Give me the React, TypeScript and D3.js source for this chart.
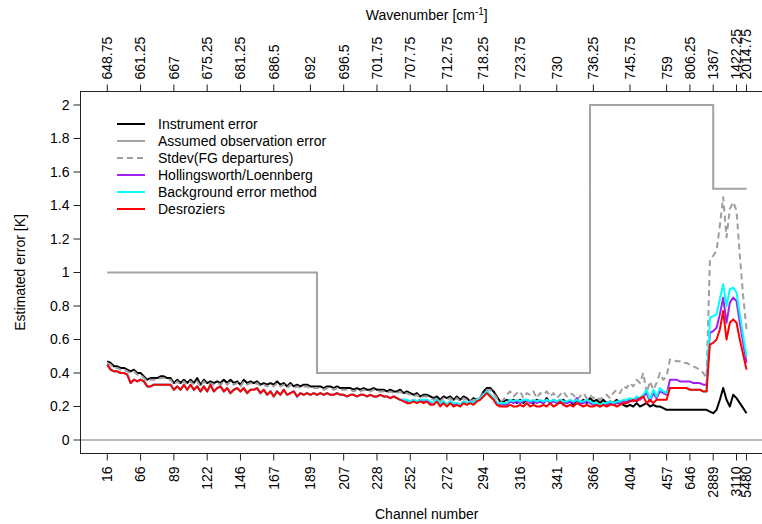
import React, { useEffect, useRef } from 'react';
import * as d3 from 'd3';

// position (channel index) of each labelled tick, plus the labels on both axes
const tickIndex = [0, 10, 20, 30, 40, 50, 61, 71, 81, 91, 102, 113, 124, 135, 146, 157, 168, 175, 182, 189, 192];
const channelLabels = ['16', '66', '89', '122', '146', '167', '189', '207', '228', '252', '272', '294', '316', '341', '366', '404', '457', '646', '2889', '3110', '5480'];
const wavenumberLabels = ['648.75', '661.25', '667', '675.25', '681.25', '686.5', '692', '696.5', '701.75', '707.75', '712.75', '718.25', '723.75', '730', '736.25', '745.75', '759', '806.25', '1367', '1422.25', '2014.75'];
const yTicks = [0, 0.2, 0.4, 0.6, 0.8, 1, 1.2, 1.4, 1.6, 1.8, 2];

const instrumentError = [
  0.47, 0.46, 0.44, 0.44, 0.43, 0.43, 0.42, 0.41, 0.42, 0.40,
  0.40, 0.38, 0.36, 0.37, 0.37, 0.37, 0.38, 0.38, 0.37, 0.37,
  0.34, 0.36, 0.34, 0.36, 0.34, 0.36, 0.34, 0.37, 0.33, 0.36,
  0.34, 0.35, 0.34, 0.35, 0.34, 0.36, 0.34, 0.36, 0.34, 0.35,
  0.33, 0.36, 0.34, 0.35, 0.34, 0.35, 0.33, 0.34, 0.33, 0.34,
  0.33, 0.35, 0.33, 0.34, 0.32, 0.34, 0.32, 0.33, 0.32, 0.33,
  0.33, 0.32, 0.32, 0.32, 0.32, 0.31, 0.32, 0.32, 0.31, 0.32,
  0.31, 0.31, 0.31, 0.31, 0.30, 0.31, 0.30, 0.31, 0.30, 0.30,
  0.31, 0.30, 0.30, 0.30, 0.29, 0.30, 0.29, 0.29, 0.30, 0.28,
  0.29, 0.28, 0.27, 0.28, 0.26, 0.27, 0.27, 0.26, 0.25, 0.26,
  0.24, 0.26, 0.25, 0.26, 0.24, 0.26, 0.24, 0.26, 0.25, 0.23,
  0.25, 0.24, 0.25, 0.29, 0.31, 0.31, 0.29, 0.26, 0.23, 0.23,
  0.24, 0.23, 0.24, 0.22, 0.24, 0.22, 0.24, 0.23, 0.22, 0.24,
  0.23, 0.22, 0.25, 0.22, 0.24, 0.23, 0.22, 0.24, 0.22, 0.23,
  0.21, 0.24, 0.22, 0.24, 0.22, 0.25, 0.23, 0.24, 0.22, 0.24,
  0.22, 0.23, 0.22, 0.24, 0.22, 0.21, 0.20, 0.21, 0.20, 0.22,
  0.20, 0.21, 0.22, 0.20, 0.21, 0.20, 0.20, 0.19, 0.18, 0.18,
  0.18, 0.18, 0.18, 0.18, 0.18, 0.18, 0.18, 0.18, 0.18, 0.18,
  0.18, 0.17, 0.16, 0.18, 0.24, 0.31, 0.24, 0.20, 0.27, 0.25,
  0.22, 0.19, 0.16,
];

// assumed observation error is piecewise constant: start index of each block and its value
const assumedStart = [0, 63, 145, 182];
const assumedValue = [1.0, 0.4, 2.0, 1.5];
const lastIndex = 192;

const stdevFG = [
  0.46, 0.45, 0.43, 0.43, 0.42, 0.42, 0.41, 0.40, 0.41, 0.39,
  0.39, 0.37, 0.35, 0.36, 0.36, 0.36, 0.37, 0.37, 0.36, 0.36,
  0.33, 0.35, 0.33, 0.35, 0.33, 0.35, 0.33, 0.35, 0.32, 0.35,
  0.33, 0.34, 0.33, 0.34, 0.33, 0.35, 0.33, 0.35, 0.33, 0.34,
  0.32, 0.35, 0.33, 0.34, 0.33, 0.34, 0.32, 0.33, 0.32, 0.33,
  0.32, 0.34, 0.32, 0.33, 0.31, 0.33, 0.31, 0.32, 0.31, 0.32,
  0.32, 0.31, 0.31, 0.31, 0.31, 0.30, 0.31, 0.31, 0.30, 0.31,
  0.30, 0.30, 0.30, 0.30, 0.29, 0.30, 0.29, 0.30, 0.29, 0.29,
  0.30, 0.29, 0.29, 0.29, 0.28, 0.29, 0.28, 0.28, 0.29, 0.27,
  0.28, 0.27, 0.26, 0.27, 0.25, 0.26, 0.26, 0.25, 0.24, 0.25,
  0.23, 0.25, 0.24, 0.25, 0.23, 0.25, 0.23, 0.25, 0.24, 0.23,
  0.24, 0.24, 0.25, 0.28, 0.30, 0.30, 0.28, 0.25, 0.23, 0.24,
  0.27, 0.29, 0.26, 0.28, 0.29, 0.25, 0.28, 0.27, 0.29, 0.25,
  0.28, 0.27, 0.29, 0.26, 0.28, 0.25, 0.27, 0.29, 0.26, 0.28,
  0.27, 0.24, 0.26, 0.28, 0.25, 0.27, 0.25, 0.26, 0.24, 0.26,
  0.27, 0.25, 0.28, 0.30, 0.28, 0.32, 0.31, 0.34, 0.32, 0.36,
  0.34, 0.40, 0.28, 0.35, 0.30, 0.34, 0.40, 0.36, 0.38, 0.48,
  0.48, 0.47, 0.47, 0.46, 0.46, 0.45, 0.44, 0.43, 0.42, 0.40,
  0.37, 1.07, 1.10, 1.13, 1.28, 1.45, 1.21, 1.38, 1.42, 1.37,
  1.10, 0.86, 0.66,
];

const hollingsworth = [
  0.45, 0.42, 0.41, 0.41, 0.40, 0.40, 0.39, 0.34, 0.36, 0.35,
  0.36, 0.35, 0.32, 0.32, 0.33, 0.33, 0.33, 0.33, 0.33, 0.33,
  0.30, 0.32, 0.30, 0.33, 0.30, 0.33, 0.30, 0.32, 0.29, 0.32,
  0.29, 0.33, 0.29, 0.31, 0.32, 0.29, 0.31, 0.28, 0.30, 0.31,
  0.29, 0.31, 0.28, 0.30, 0.30, 0.31, 0.28, 0.30, 0.27, 0.29,
  0.26, 0.29, 0.27, 0.30, 0.27, 0.28, 0.29, 0.26, 0.28, 0.27,
  0.28, 0.27, 0.28, 0.27, 0.28, 0.27, 0.28, 0.27, 0.27, 0.28,
  0.27, 0.27, 0.26, 0.27, 0.27, 0.26, 0.27, 0.27, 0.26, 0.27,
  0.26, 0.26, 0.27, 0.26, 0.26, 0.25, 0.26, 0.25, 0.24, 0.24,
  0.23, 0.23, 0.24, 0.23, 0.24, 0.23, 0.24, 0.22, 0.22, 0.24,
  0.21, 0.23, 0.21, 0.23, 0.21, 0.22, 0.21, 0.23, 0.22, 0.23,
  0.22, 0.24, 0.25, 0.27, 0.29, 0.27, 0.25, 0.22, 0.21, 0.21,
  0.21, 0.23, 0.22, 0.23, 0.22, 0.23, 0.24, 0.22, 0.23, 0.22,
  0.23, 0.22, 0.24, 0.22, 0.23, 0.22, 0.24, 0.22, 0.22, 0.23,
  0.22, 0.25, 0.22, 0.22, 0.23, 0.22, 0.21, 0.21, 0.20, 0.21,
  0.21, 0.22, 0.21, 0.22, 0.22, 0.23, 0.23, 0.24, 0.23, 0.25,
  0.24, 0.26, 0.28, 0.23, 0.28, 0.25, 0.29, 0.28, 0.27, 0.36,
  0.36, 0.36, 0.35, 0.35, 0.35, 0.35, 0.34, 0.34, 0.34, 0.33,
  0.33, 0.64, 0.65, 0.67, 0.75, 0.85, 0.70, 0.82, 0.85, 0.83,
  0.70, 0.58, 0.46,
];

const backgroundMethod = [
  0.45, 0.42, 0.41, 0.41, 0.40, 0.40, 0.39, 0.34, 0.36, 0.35,
  0.36, 0.35, 0.32, 0.32, 0.33, 0.33, 0.33, 0.33, 0.33, 0.33,
  0.30, 0.32, 0.30, 0.33, 0.30, 0.33, 0.30, 0.32, 0.29, 0.32,
  0.29, 0.33, 0.29, 0.31, 0.32, 0.29, 0.31, 0.28, 0.30, 0.31,
  0.29, 0.31, 0.28, 0.30, 0.30, 0.31, 0.28, 0.30, 0.27, 0.29,
  0.26, 0.29, 0.27, 0.30, 0.27, 0.28, 0.29, 0.26, 0.28, 0.27,
  0.28, 0.27, 0.28, 0.27, 0.28, 0.27, 0.28, 0.27, 0.27, 0.28,
  0.27, 0.27, 0.26, 0.27, 0.27, 0.26, 0.27, 0.27, 0.26, 0.27,
  0.26, 0.26, 0.27, 0.26, 0.26, 0.25, 0.26, 0.25, 0.24, 0.24,
  0.24, 0.23, 0.24, 0.23, 0.24, 0.24, 0.24, 0.23, 0.22, 0.24,
  0.22, 0.23, 0.21, 0.23, 0.22, 0.22, 0.21, 0.23, 0.22, 0.23,
  0.22, 0.24, 0.25, 0.27, 0.29, 0.27, 0.25, 0.22, 0.22, 0.22,
  0.22, 0.24, 0.23, 0.24, 0.23, 0.24, 0.24, 0.23, 0.24, 0.23,
  0.24, 0.23, 0.24, 0.23, 0.24, 0.23, 0.24, 0.23, 0.23, 0.24,
  0.23, 0.24, 0.23, 0.23, 0.24, 0.23, 0.22, 0.22, 0.21, 0.22,
  0.22, 0.23, 0.22, 0.23, 0.23, 0.24, 0.24, 0.25, 0.24, 0.26,
  0.25, 0.27, 0.30, 0.24, 0.30, 0.26, 0.31, 0.29, 0.28, 0.31,
  0.31, 0.31, 0.31, 0.31, 0.31, 0.30, 0.30, 0.30, 0.30, 0.29,
  0.29, 0.73, 0.74, 0.75, 0.84, 0.93, 0.80, 0.90, 0.91, 0.88,
  0.75, 0.62, 0.50,
];

const desroziers = [
  0.45, 0.42, 0.41, 0.41, 0.40, 0.40, 0.39, 0.34, 0.36, 0.35,
  0.36, 0.35, 0.32, 0.32, 0.33, 0.33, 0.33, 0.33, 0.33, 0.33,
  0.30, 0.32, 0.30, 0.33, 0.30, 0.33, 0.30, 0.32, 0.29, 0.32,
  0.29, 0.33, 0.29, 0.31, 0.32, 0.29, 0.31, 0.28, 0.30, 0.31,
  0.29, 0.31, 0.28, 0.30, 0.30, 0.31, 0.28, 0.30, 0.27, 0.29,
  0.26, 0.29, 0.27, 0.30, 0.27, 0.28, 0.29, 0.26, 0.28, 0.27,
  0.28, 0.27, 0.28, 0.27, 0.28, 0.27, 0.28, 0.27, 0.27, 0.28,
  0.27, 0.27, 0.26, 0.27, 0.27, 0.26, 0.27, 0.27, 0.26, 0.27,
  0.26, 0.26, 0.27, 0.26, 0.26, 0.25, 0.26, 0.25, 0.24, 0.23,
  0.22, 0.22, 0.23, 0.22, 0.23, 0.22, 0.23, 0.21, 0.21, 0.23,
  0.20, 0.22, 0.20, 0.22, 0.20, 0.21, 0.20, 0.22, 0.21, 0.22,
  0.21, 0.23, 0.24, 0.26, 0.28, 0.26, 0.24, 0.21, 0.20, 0.20,
  0.20, 0.21, 0.20, 0.20, 0.21, 0.20, 0.22, 0.20, 0.21, 0.20,
  0.20, 0.21, 0.20, 0.22, 0.20, 0.21, 0.23, 0.21, 0.20, 0.21,
  0.20, 0.22, 0.21, 0.20, 0.21, 0.20, 0.20, 0.21, 0.20, 0.21,
  0.20, 0.21, 0.21, 0.20, 0.21, 0.22, 0.22, 0.23, 0.24, 0.23,
  0.25, 0.26, 0.22, 0.24, 0.22, 0.24, 0.24, 0.24, 0.24, 0.31,
  0.31, 0.31, 0.31, 0.31, 0.31, 0.30, 0.30, 0.30, 0.30, 0.29,
  0.29, 0.57, 0.58, 0.60, 0.66, 0.77, 0.60, 0.70, 0.72, 0.70,
  0.60, 0.51, 0.42,
];

const FONT = '"Liberation Sans", Arial, Helvetica, sans-serif';

const series = [
  { name: 'Instrument error', values: instrumentError, color: '#000000', dash: null },
  { name: 'Assumed observation error', values: null, color: '#a3a3a3', dash: null },
  { name: 'Stdev(FG departures)', values: stdevFG, color: '#9e9e9e', dash: '6,4' },
  { name: 'Hollingsworth/Loennberg', values: hollingsworth, color: '#a020f0', dash: null },
  { name: 'Background error method', values: backgroundMethod, color: '#00ffff', dash: null },
  { name: 'Desroziers', values: desroziers, color: '#ff0000', dash: null },
];

const ErrorChart = () => {
  const chartRef = useRef<SVGSVGElement>(null);

  useEffect(() => {
    const svg = d3.select(chartRef.current);
    svg.selectAll('*').remove();

    const box = { left: 80.5, right: 773, top: 91.5, bottom: 453.5 };

    const x = d3.scaleLinear().domain([0, lastIndex]).range([107.3, 746.5]);
    const y = d3.scaleLinear().domain([0, 2]).range([440, 105]);

    // zero line
    svg
      .append('line')
      .attr('x1', box.left)
      .attr('x2', box.right)
      .attr('y1', y(0))
      .attr('y2', y(0))
      .attr('stroke', '#a0a0a0')
      .attr('stroke-width', 1.3);

    // assumed obs error as steps
    const steps: [number, number][] = assumedStart.map((s, k) => [s, assumedValue[k]]);
    steps.push([lastIndex, assumedValue[assumedValue.length - 1]]);
    svg
      .append('path')
      .attr(
        'd',
        d3
          .line<[number, number]>()
          .x(d => x(d[0]))
          .y(d => y(d[1]))
          .curve(d3.curveStepAfter)(steps),
      )
      .attr('fill', 'none')
      .attr('stroke', series[1].color)
      .attr('stroke-width', 2);

    const lineGen = d3
      .line<number>()
      .x((d, i) => x(i))
      .y(d => y(d));

    series
      .filter(s => s.values)
      .forEach(s => {
        svg
          .append('path')
          .attr('d', lineGen(s.values as number[]))
          .attr('fill', 'none')
          .attr('stroke', s.color)
          .attr('stroke-width', 2)
          .attr('stroke-linejoin', 'round')
          .attr('stroke-dasharray', s.dash);
      });

    // frame
    svg
      .append('rect')
      .attr('x', box.left)
      .attr('y', box.top)
      .attr('width', box.right - box.left)
      .attr('height', box.bottom - box.top)
      .attr('fill', 'none')
      .attr('stroke', '#222')
      .attr('stroke-width', 1);

    // left axis
    const yAxis = svg.append('g').attr('font-family', FONT).attr('font-size', 14);
    yTicks.forEach(t => {
      yAxis
        .append('line')
        .attr('x1', box.left - 7)
        .attr('x2', box.left)
        .attr('y1', y(t))
        .attr('y2', y(t))
        .attr('stroke', '#222');
      yAxis
        .append('text')
        .attr('x', box.left - 11)
        .attr('y', y(t))
        .attr('dy', '0.35em')
        .attr('text-anchor', 'end')
        .text(String(+t.toFixed(1)));
    });

    // bottom axis
    const bottom = svg.append('g').attr('font-family', FONT).attr('font-size', 14);
    tickIndex.forEach((t, k) => {
      bottom
        .append('line')
        .attr('x1', x(t))
        .attr('x2', x(t))
        .attr('y1', box.bottom)
        .attr('y2', box.bottom + 7)
        .attr('stroke', '#222');
      bottom
        .append('text')
        .attr('transform', `translate(${x(t)},${box.bottom + 13}) rotate(-90)`)
        .attr('dy', '0.35em')
        .attr('text-anchor', 'end')
        .text(channelLabels[k]);
    });

    // top axis
    const top = svg.append('g').attr('font-family', FONT).attr('font-size', 14);
    tickIndex.forEach((t, k) => {
      top
        .append('line')
        .attr('x1', x(t))
        .attr('x2', x(t))
        .attr('y1', box.top)
        .attr('y2', box.top - 7)
        .attr('stroke', '#222');
      top
        .append('text')
        .attr('transform', `translate(${x(t)},${box.top - 12}) rotate(-90)`)
        .attr('dy', '0.35em')
        .attr('text-anchor', 'start')
        .text(wavenumberLabels[k]);
    });

    const midX = (box.left + box.right) / 2;

    const wn = svg
      .append('text')
      .attr('x', midX)
      .attr('y', 20)
      .attr('text-anchor', 'middle')
      .attr('font-family', FONT)
      .attr('font-size', 14);
    wn.append('tspan').text('Wavenumber [cm');
    wn.append('tspan').attr('font-size', 10).attr('dy', -5).text('-1');
    wn.append('tspan').attr('dy', 5).text(']');

    svg
      .append('text')
      .attr('x', midX)
      .attr('y', 519)
      .attr('text-anchor', 'middle')
      .attr('font-family', FONT)
      .attr('font-size', 14)
      .text('Channel number');

    svg
      .append('text')
      .attr('transform', `translate(24.5, ${(box.top + box.bottom) / 2}) rotate(-90)`)
      .attr('text-anchor', 'middle')
      .attr('font-family', FONT)
      .attr('font-size', 14)
      .text('Estimated error [K]');

    // legend
    const legend = svg.append('g').attr('font-family', FONT).attr('font-size', 14);
    series.forEach((s, k) => {
      const ly = 124 + k * 17;
      legend
        .append('line')
        .attr('x1', 117)
        .attr('x2', 145)
        .attr('y1', ly)
        .attr('y2', ly)
        .attr('stroke', s.color)
        .attr('stroke-width', 2)
        .attr('stroke-dasharray', s.dash);
      legend
        .append('text')
        .attr('x', 158)
        .attr('y', ly)
        .attr('dy', '0.35em')
        .text(s.name);
    });
  }, []);

  return (
    <svg
      ref={chartRef}
      width={762}
      height={524}
      style={{ position: 'absolute', left: 0, top: 0, background: '#fff' }}
    />
  );
};

export default function App() {
  return <ErrorChart />;
}
